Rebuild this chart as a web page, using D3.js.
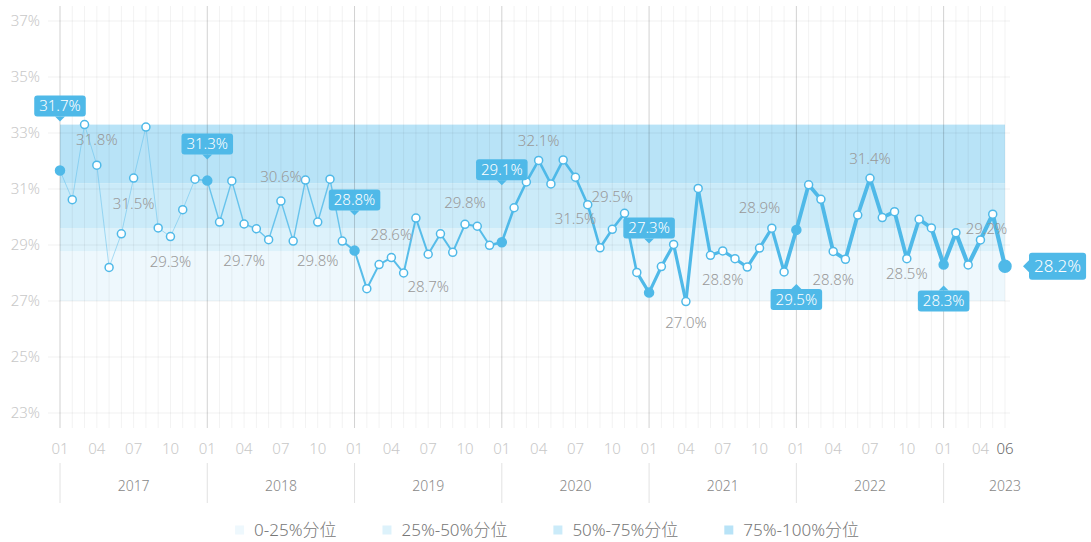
<!DOCTYPE html>
<html lang="zh">
<head>
<meta charset="utf-8">
<title>分位走势</title>
<script src="https://cdn.jsdelivr.net/npm/d3@7"></script>
<style>
  body { margin: 0; background: #fff; }
  text { font-family: "Noto Sans", "Noto Sans CJK SC", sans-serif; font-weight: 300; }
</style>
</head>
<body>
<svg id="chart" width="1091" height="542"></svg>
<script>

// monthly values, 2017-01 .. 2023-06
var years = [2017, 2018, 2019, 2020, 2021, 2022, 2023];
var values = [
  31.66, 30.62, 33.30, 31.85, 28.20, 29.40, 31.39, 33.21, 29.61, 29.30, 30.26, 31.35,
  31.30, 29.82, 31.29, 29.75, 29.58, 29.19, 30.57, 29.14, 31.32, 29.82, 31.35, 29.14,
  28.80, 27.44, 28.30, 28.55, 28.00, 29.96, 28.67, 29.40, 28.74, 29.74, 29.67, 28.99,
  29.10, 30.33, 31.25, 32.02, 31.18, 32.04, 31.42, 30.44, 28.90, 29.56, 30.13, 28.02,
  27.30, 28.23, 29.02, 26.98, 31.02, 28.63, 28.79, 28.51, 28.21, 28.89, 29.60, 28.04,
  29.54, 31.15, 30.63, 28.77, 28.49, 30.07, 31.38, 29.98, 30.19, 28.51, 29.92, 29.61,
  28.30, 29.44, 28.29, 29.18, 30.10, 28.24
];
var yTicks = [23, 25, 27, 29, 31, 33, 35, 37];
var monthTicks = ["01", "04", "07", "10"];

// quartile bands
var bandEdges = [27.0, 28.78, 29.6, 31.2, 33.3];
var bandNames = ["0-25%分位", "25%-50%分位", "50%-75%分位", "75%-100%分位"];

// grey quarterly notes
var noteIndex = [3, 6, 9, 15, 18, 21, 27, 30, 33, 39, 42, 45, 51, 54, 57, 63, 66, 69, 75];
var noteText = ["31.8%", "31.5%", "29.3%", "29.7%", "30.6%", "29.8%", "28.6%", "28.7%", "29.8%",
  "32.1%", "31.5%", "29.5%", "27.0%", "28.8%", "28.9%", "28.8%", "31.4%", "28.5%", "29.2%"];

// highlighted points (January of each year + latest)
var calloutIndex = [0, 12, 24, 36, 48, 60, 72, 77];

// ---- layout / style ----
var noteDy = [-25, 26, 25, 37, -24, 39, -23, 33, -22, -20, 42, -33, 21, 29, -40, 28, -20, 15, -11];
var noteDx = [0, 0, 0, 0, 0, 0, 0, 0, 0, 0, 0, 0, 0, 0, 0, 0, 0, 0, 6];
var calloutDir = ["up", "up", "up", "up", "up", "down", "down", "right"];
var calloutGap = [49, 21, 35, 57, 49, 54, 21, 18];
var bandColors = ["#eef8fd", "#ddf2fb", "#cbebf9", "#b8e3f7"];
var blue = "#4fb9e8";
var yearWidth = [1, 1.4, 2, 2.6, 3.2, 3.8, 4.2];
var yearOpacity = [0.45, 0.8, 0.95, 1, 1, 1, 1];

var months = [];
years.forEach(function(yr) {
  for (var m = 1; m <= 12; m++) {
    if (months.length < values.length)
      months.push({year: yr, mm: (m < 10 ? "0" : "") + m, yi: years.indexOf(yr)});
  }
});
var data = values.map(function(v, i) { return {v: v, i: i, year: months[i].year, mm: months[i].mm, yi: months[i].yi}; });
var last = data.length - 1;

var svg = d3.select("#chart");

var x = d3.scaleLinear().domain([0, last]).range([60, 1005]);
var y = d3.scaleLinear().domain([23, 37]).range([413, 21]);

var gridTop = y(37) - 15, gridBottom = y(23) + 15;

// bands
svg.append("g").selectAll("rect")
  .data(d3.range(4))
  .enter().append("rect")
  .attr("x", x(0))
  .attr("width", x(last) - x(0))
  .attr("y", d => y(bandEdges[d + 1]))
  .attr("height", d => y(bandEdges[d]) - y(bandEdges[d + 1]))
  .attr("fill", d => bandColors[d]);

// horizontal grid
svg.append("g").selectAll("line")
  .data(yTicks)
  .enter().append("line")
  .attr("x1", 48).attr("x2", 1010)
  .attr("y1", d => y(d)).attr("y2", d => y(d))
  .attr("stroke", "rgba(0,0,0,0.06)");

// vertical monthly grid
svg.append("g").selectAll("line")
  .data(data)
  .enter().append("line")
  .attr("x1", d => x(d.i)).attr("x2", d => x(d.i))
  .attr("y1", gridTop).attr("y2", gridBottom)
  .attr("stroke", d => d.mm == "01" ? "rgba(0,0,0,0.18)" : "rgba(0,0,0,0.05)");

// y labels
svg.append("g").selectAll("text")
  .data(yTicks)
  .enter().append("text")
  .attr("x", 40)
  .attr("y", d => y(d))
  .attr("dy", "0.35em")
  .attr("text-anchor", "end")
  .attr("font-size", "15px")
  .attr("fill", "#c8c8c8")
  .text(d => d + "%");

// month labels
svg.append("g").selectAll("text")
  .data(data.filter(d => monthTicks.indexOf(d.mm) >= 0 || d.i == last))
  .enter().append("text")
  .attr("x", d => x(d.i))
  .attr("y", 449)
  .attr("dy", "0.35em")
  .attr("text-anchor", "middle")
  .attr("font-size", "15px")
  .attr("fill", d => d.i == last ? "#666" : "#c8c8c8")
  .text(d => d.mm);

// year separators + labels
var yearStarts = data.filter(d => d.mm == "01");
svg.append("g").selectAll("line")
  .data(yearStarts)
  .enter().append("line")
  .attr("x1", d => x(d.i)).attr("x2", d => x(d.i))
  .attr("y1", 463).attr("y2", 503)
  .attr("stroke", "#e2e2e2");

svg.append("g").selectAll("text")
  .data(yearStarts)
  .enter().append("text")
  .attr("x", d => x(Math.min(d.i + 6, last)))
  .attr("y", 486)
  .attr("dy", "0.35em")
  .attr("text-anchor", "middle")
  .attr("font-size", "14px")
  .attr("fill", "#888")
  .text(d => d.year);

// line, one segment at a time so it thickens with time
var segs = data.slice(1).map(function(d, k) { return [data[k], d]; });
svg.append("g").selectAll("line")
  .data(segs)
  .enter().append("line")
  .attr("x1", d => x(d[0].i)).attr("y1", d => y(d[0].v))
  .attr("x2", d => x(d[1].i)).attr("y2", d => y(d[1].v))
  .attr("stroke", blue)
  .attr("stroke-linecap", "round")
  .attr("stroke-width", d => yearWidth[d[1].yi])
  .attr("stroke-opacity", d => yearOpacity[d[1].yi]);

// points
svg.append("g").selectAll("circle")
  .data(data)
  .enter().append("circle")
  .attr("cx", d => x(d.i))
  .attr("cy", d => y(d.v))
  .attr("r", d => d.i == last ? 6 : (calloutIndex.indexOf(d.i) >= 0 ? 4.5 : 4))
  .attr("fill", d => calloutIndex.indexOf(d.i) >= 0 ? blue : "#fff")
  .attr("stroke", blue)
  .attr("stroke-width", 1.5);

// grey notes
svg.append("g").selectAll("text")
  .data(noteIndex)
  .enter().append("text")
  .attr("x", (d, k) => x(d) + noteDx[k])
  .attr("y", (d, k) => y(values[d]) + noteDy[k])
  .attr("dy", "0.35em")
  .attr("text-anchor", "middle")
  .attr("font-size", "15px")
  .attr("fill", "#999")
  .text((d, k) => noteText[k]);

// callouts
calloutIndex.forEach(function(idx, k) {
  var dir = calloutDir[k], gap = calloutGap[k];
  var px = x(idx), py = y(values[idx]);
  var fs = dir == "right" ? 17 : 15;
  var h = dir == "right" ? 27 : 21;
  var g = svg.append("g");
  var path = g.append("path").attr("fill", blue);
  var rect = g.append("rect").attr("rx", 3).attr("fill", blue).attr("height", h);
  var t = g.append("text")
    .attr("font-size", fs + "px")
    .attr("fill", "#fff")
    .attr("dy", "0.35em")
    .text(values[idx].toFixed(1) + "%");
  var w = t.node().getComputedTextLength() + 10;
  rect.attr("width", w);
  if (dir == "up" || dir == "down") {
    var tip = dir == "up" ? py - gap : py + gap;
    var base = dir == "up" ? tip - 5 : tip + 5;
    var top = dir == "up" ? base - h : base;
    rect.attr("x", px - w / 2).attr("y", top);
    path.attr("d", `M${px - 5},${base} L${px},${tip} L${px + 5},${base} Z`);
    t.attr("x", px).attr("y", top + h / 2).attr("text-anchor", "middle");
  } else {
    var tipX = px + gap;
    var bx = tipX + 6;
    rect.attr("x", bx).attr("y", py - h / 2);
    path.attr("d", `M${bx},${py - 6} L${tipX},${py} L${bx},${py + 6} Z`);
    t.attr("x", bx + w / 2).attr("y", py).attr("text-anchor", "middle");
  }
});

// legend
var legend = svg.append("g");
var lx = 0, itemGap = 46;
bandNames.forEach(function(name, k) {
  var item = legend.append("g").attr("transform", `translate(${lx},0)`);
  item.append("rect")
    .attr("x", 0).attr("y", -4.5)
    .attr("width", 9).attr("height", 9)
    .attr("fill", bandColors[k]);
  var t = item.append("text")
    .attr("x", 19)
    .attr("dy", "0.35em")
    .attr("font-size", "17px")
    .attr("fill", "#777")
    .text(name);
  lx += 19 + t.node().getComputedTextLength() + itemGap;
});
lx -= itemGap;
legend.attr("transform", `translate(${547 - lx / 2},530)`);

</script>
</body>
</html>
